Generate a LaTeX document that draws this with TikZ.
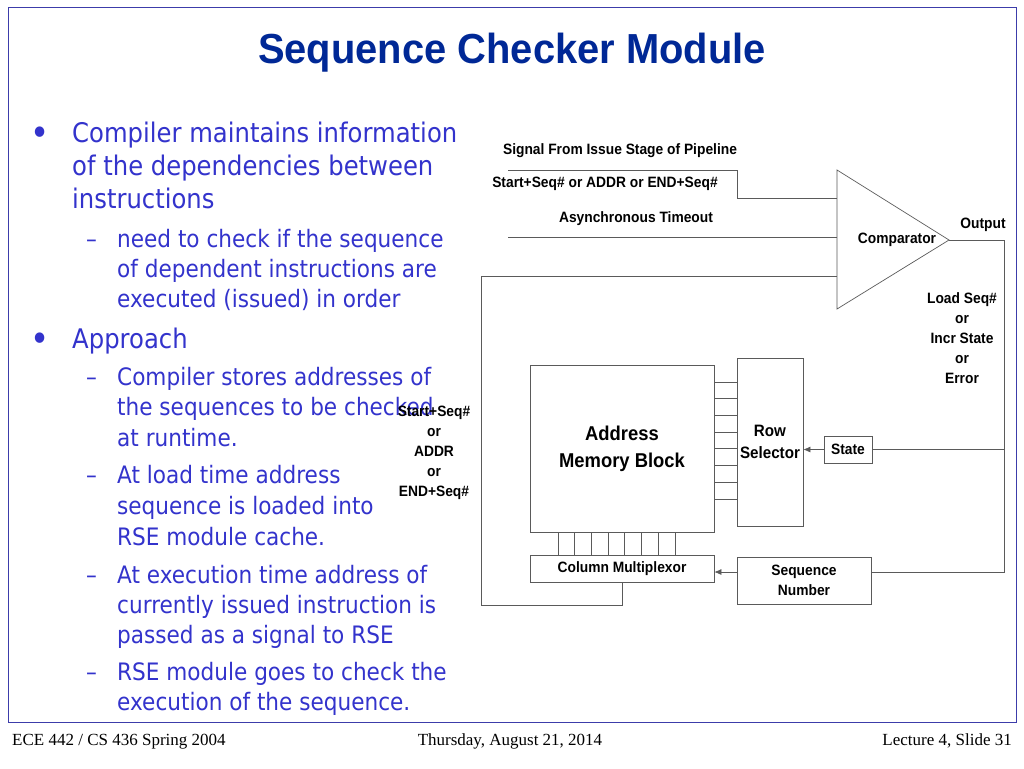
\documentclass[tikz,border=0pt]{standalone}
\usepackage{fontspec}
\setmainfont{Liberation Sans}
\newfontfamily\arialfont[FakeStretch=0.92]{Liberation Sans}
\newfontfamily\titlefont[FakeStretch=0.95]{Liberation Sans}
\newfontfamily\tahomafont[FakeStretch=0.9]{DejaVu Sans}
\newfontfamily\timesfont{Liberation Serif}
\usepackage{tikz}
\usetikzlibrary{arrows.meta,calc}
\definecolor{slideblue}{RGB}{51,51,204}
\definecolor{titleblue}{RGB}{0,40,150}
\definecolor{frameblue}{RGB}{60,60,170}
\definecolor{wire}{RGB}{90,90,90}
\tikzstyle{arrow} = [-{Latex[length=7pt,width=6pt]}]
\tikzstyle{wireline} = [draw=wire,line width=0.7pt]
\tikzstyle{blockbox} = [draw=wire,line width=0.7pt,fill=white,inner sep=0pt,align=center,font=\arialfont\bfseries\fontsize{15}{20}\selectfont]
\tikzstyle{sigtext} = [inner sep=0pt,align=center,font=\arialfont\bfseries\fontsize{15}{20}\selectfont]
\tikzstyle{maintext} = [anchor=base west,inner sep=0pt,text=slideblue,font=\tahomafont\fontsize{27}{27}\selectfont]
\tikzstyle{subtext} = [anchor=base west,inner sep=0pt,text=slideblue,font=\tahomafont\fontsize{24}{24}\selectfont]
\tikzstyle{foottext} = [anchor=base,inner sep=0pt,font=\timesfont\fontsize{17}{17}\selectfont]

\begin{document}
\begin{tikzpicture}[x=1pt,y=-1pt]
\useasboundingbox (0,0) rectangle (1024,768);
\fill[white] (0,0) rectangle (1024,768);
\draw[frameblue,line width=1pt] (8,8) rectangle (1016,722);
\node[font=\titlefont\bfseries\fontsize{42}{42}\selectfont,text=titleblue] (title) at (512,53) {Sequence Checker Module};

% bullet points
\foreach \y [count=\i] in {142,348}
  \node[maintext,font=\tahomafont\fontsize{36}{36}\selectfont] (dot\i) at (30,\y+3) {•};
\foreach \y [count=\i] in {247,385,483,583,680}
  \node[subtext] (dash\i) at (86,\y) {–};
\foreach \y/\t [count=\i] in {142/Compiler maintains information, 175/of the dependencies between,
  208/instructions, 348/Approach}
  \node[maintext] (main\i) at (72,\y) {\t};
\foreach \y/\t [count=\i] in {247/need to check if the sequence, 277/of dependent instructions are,
  307/executed (issued) in order, 385/Compiler stores addresses of, 415/the sequences to be checked,
  446/at runtime., 483/At load time address, 514/sequence is loaded into, 545/RSE module cache.,
  583/At execution time address of, 613/currently issued instruction is, 643/passed as a signal to RSE,
  680/RSE module goes to check the, 710/execution of the sequence.}
  \node[subtext] (sub\i) at (117,\y) {\t};

% blocks
\node[blockbox,minimum width=184,minimum height=167,font=\arialfont\bfseries\fontsize{20}{27}\selectfont] (mem) at (622,448.5) {Address\\Memory Block};
\node[blockbox,minimum width=66,minimum height=168,font=\arialfont\bfseries\fontsize{16.5}{22}\selectfont] (rowsel) at (770,442) {Row\\Selector};
\node[blockbox,minimum width=48,minimum height=27] (state) at (848,449.5) {State};
\node[blockbox,minimum width=184,minimum height=27] (colmux) at (622,568.5) {Column Multiplexor};
\node[blockbox,minimum width=134,minimum height=47] (seqnum) at (804,580.5) {Sequence\\Number};

% comparator
\coordinate (cmpT) at (837,170);
\coordinate (cmpB) at (837,309);
\coordinate (cmpO) at (949,240);
\draw[wireline] (cmpT) -- (cmpO) -- (cmpB) -- cycle;
\node[sigtext] (cmp) at (897,240) {Comparator};

\coordinate (in1) at (837,198);
\coordinate (in2) at (837,237);
\coordinate (in3) at (837,276);
\coordinate (sig) at (508,170);
\coordinate (tmo) at (508,237);
\coordinate (fb) at (481,605);
\coordinate (outR) at (1004,240);
\coordinate (seqR) at ([yshift=8.5pt]seqnum.east);
\coordinate (seqL) at ([yshift=8.5pt]seqnum.west);

% wires
\draw[wireline] (sig) -- ++(229,0) |- (in1);
\draw[wireline] (tmo) -- (in2);
\draw[wireline] (colmux.south) |- (fb) |- (in3);
\draw[wireline] (cmpO) -- (outR) |- (seqR);
\draw[wireline] (state.east) -- (state.east -| outR);
\draw[wireline,arrow] (state.west) -- (state.west -| rowsel.east);
\draw[wireline,arrow] (seqL) -- (seqL -| colmux.east);

\foreach \i in {0,...,7} {
  \pgfmathsetmacro\ry{382+16.7*\i}
  \pgfmathsetmacro\cx{558+16.7*\i}
  \draw[wireline] (mem.east |- 0,\ry) -- (rowsel.west |- 0,\ry);
  \draw[wireline] (\cx,0 |- mem.south) -- (\cx,0 |- colmux.north);
}

% labels
\node[sigtext] (sigl) at (620,151) {Signal From Issue Stage of Pipeline};
\node[sigtext] (addrl) at (605,184) {Start+Seq\# or ADDR or END+Seq\#};
\node[sigtext] (tmol) at (636,219) {Asynchronous Timeout};
\node[sigtext] (outl) at (983,225) {Output};
\node[sigtext] (ctrl) at (962,338) {Load Seq\#\\or\\Incr State\\or\\Error};
\node[sigtext] (inl) at (434,453) {Start+Seq\#\\or\\ADDR\\or\\END+Seq\#};

% footer
\node[foottext,anchor=base west] (foot1) at (12,745) {ECE 442 / CS 436 Spring 2004};
\node[foottext] (foot2) at (510,745) {Thursday, August 21, 2014};
\node[foottext,anchor=base east] (foot3) at (1012,745) {Lecture 4, Slide 31};
\end{tikzpicture}
\end{document}
